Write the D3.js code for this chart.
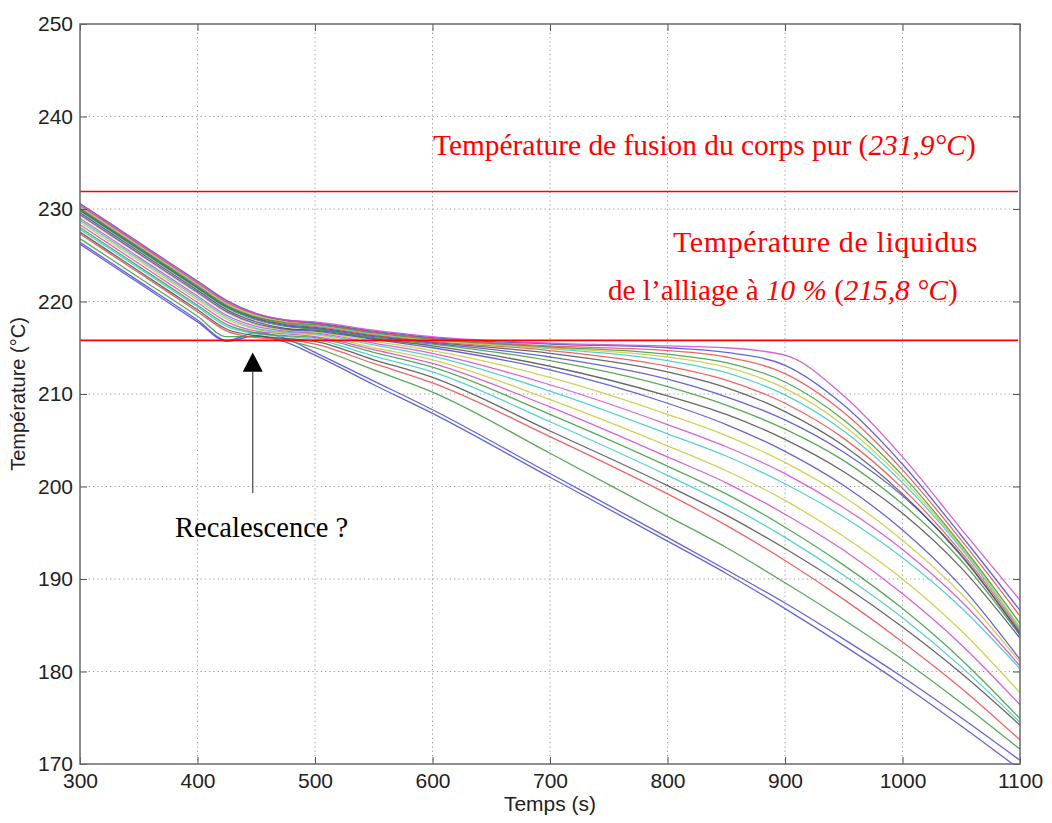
<!DOCTYPE html>
<html>
<head>
<meta charset="utf-8">
<script src="https://cdn.jsdelivr.net/npm/d3@7"></script>
<style>
  body { margin: 0; background: #fff; }
  svg { display: block; }
</style>
</head>
<body>
<div id="chart"></div>
<script>
// Courbes de refroidissement - alliage 10 %
// temps communs à toutes les courbes (s)
const times = [300, 350, 400, 425, 450, 475, 500, 550, 600, 700, 800, 850, 900, 950, 1000, 1050, 1100];

// couleurs MATLAB (b g r c m y k) de chaque courbe
const seriesColors = ["b","b","g","r","k","c","g","m","y","c","m","y","b","k","g","b","k","r","c","y","g","r","b","m"];

// températures (°C), une ligne par thermocouple
const temperatures = [
  [226.2, 222.0, 217.8, 215.7, 216.3, 215.6, 214.2, 211.0, 207.9, 201.0, 194.1, 190.6, 186.8, 182.8, 178.6, 174.1, 169.4],
  [226.4, 222.2, 218.0, 215.8, 216.6, 216.0, 214.5, 211.4, 208.3, 201.4, 194.5, 191.0, 187.4, 183.5, 179.4, 175.0, 170.4],
  [226.8, 222.6, 218.4, 216.2, 216.2, 215.8, 215.0, 212.6, 210.2, 203.6, 196.8, 193.4, 189.6, 185.6, 181.3, 176.6, 171.6],
  [227.3, 223.1, 218.9, 216.8, 216.1, 215.9, 215.4, 213.3, 211.2, 205.4, 199.2, 195.8, 192.0, 187.8, 183.2, 178.2, 172.6],
  [227.5, 223.3, 219.1, 217.0, 216.3, 216.0, 215.7, 213.7, 211.8, 206.0, 200.1, 196.9, 193.3, 189.3, 184.8, 179.8, 174.2],
  [227.8, 223.6, 219.4, 217.3, 216.5, 216.2, 215.9, 214.1, 212.4, 207.0, 201.2, 198.1, 194.5, 190.4, 185.8, 180.5, 174.5],
  [228.0, 223.8, 219.6, 217.5, 216.6, 216.3, 216.1, 214.5, 212.9, 207.8, 202.2, 199.2, 195.6, 191.5, 186.8, 181.3, 174.9],
  [228.3, 224.1, 219.9, 217.8, 216.8, 216.5, 216.2, 214.8, 213.3, 208.6, 203.2, 200.4, 197.0, 193.1, 188.4, 182.9, 176.4],
  [228.6, 224.4, 220.2, 218.1, 217.0, 216.6, 216.4, 215.0, 213.7, 209.4, 204.4, 201.7, 198.5, 194.6, 190.0, 184.4, 177.7],
  [228.8, 224.6, 220.4, 218.3, 217.1, 216.7, 216.5, 215.3, 214.1, 210.3, 205.7, 203.3, 200.3, 196.7, 192.3, 186.9, 180.3],
  [229.0, 224.8, 220.6, 218.5, 217.3, 216.8, 216.6, 215.5, 214.4, 211.0, 206.7, 204.3, 201.4, 197.7, 193.2, 187.6, 180.6],
  [229.3, 225.1, 220.9, 218.8, 217.5, 216.9, 216.7, 215.7, 214.7, 211.8, 207.8, 205.5, 202.6, 198.9, 194.2, 188.4, 181.0],
  [229.4, 225.2, 221.0, 218.9, 217.6, 217.0, 216.8, 215.9, 215.0, 212.6, 209.0, 206.7, 203.8, 200.1, 195.3, 189.2, 181.3],
  [229.6, 225.4, 221.2, 219.1, 217.8, 217.1, 216.9, 216.0, 215.2, 213.0, 209.8, 207.8, 205.1, 201.6, 197.1, 191.2, 183.6],
  [229.8, 225.6, 221.4, 219.3, 218.0, 217.3, 217.0, 216.1, 215.4, 213.6, 210.8, 208.8, 206.2, 202.8, 198.1, 192.0, 183.9],
  [229.9, 225.7, 221.5, 219.4, 218.1, 217.4, 217.1, 216.2, 215.5, 214.0, 211.6, 209.7, 207.2, 203.7, 199.0, 192.6, 184.0],
  [230.0, 225.8, 221.6, 219.5, 218.2, 217.5, 217.2, 216.3, 215.6, 214.4, 212.4, 210.7, 208.1, 204.4, 199.2, 192.5, 184.2],
  [230.1, 225.9, 221.7, 219.6, 218.3, 217.6, 217.3, 216.4, 215.7, 214.7, 213.0, 211.5, 209.0, 205.2, 199.8, 192.9, 184.4],
  [230.2, 226.0, 221.8, 219.7, 218.4, 217.7, 217.4, 216.5, 215.8, 214.9, 213.6, 212.3, 209.9, 206.0, 200.4, 193.3, 184.6],
  [230.3, 226.1, 221.9, 219.8, 218.5, 217.8, 217.5, 216.6, 215.8, 215.0, 214.0, 212.9, 210.6, 206.6, 200.8, 193.5, 184.8],
  [230.0, 225.8, 221.6, 219.5, 218.3, 217.7, 217.5, 216.6, 215.9, 215.1, 214.3, 213.4, 211.3, 207.2, 201.2, 193.7, 185.2],
  [230.4, 226.2, 222.0, 219.9, 218.6, 217.9, 217.6, 216.7, 216.0, 215.2, 214.7, 214.0, 212.2, 208.0, 201.8, 194.2, 186.0],
  [230.6, 226.4, 222.2, 220.1, 218.7, 218.0, 217.7, 216.8, 216.1, 215.4, 215.0, 214.5, 213.1, 208.8, 202.4, 194.7, 186.6],
  [230.5, 226.3, 222.1, 220.0, 218.7, 218.0, 217.8, 216.9, 216.2, 215.5, 215.2, 215.0, 214.2, 209.8, 203.2, 195.4, 187.7]
];

const xTicks = [300, 400, 500, 600, 700, 800, 900, 1000, 1100];
const yTicks = [170, 180, 190, 200, 210, 220, 230, 240, 250];

const fusionTemp = 231.9;    // corps pur
const liquidusTemp = 215.8;  // alliage 10 %
// flèche "Recalescence ?" : temps, pointe, base de la tête, queue (°C)
const arrowTime = 447;
const arrowTip = 214.5, arrowBase = 212.4, arrowTail = 199.3;

const palette = {
  b: "#4a4ad2", g: "#3c9a3c", r: "#ee4a4a", c: "#3cc8c8",
  m: "#d048d0", y: "#c9c93c", k: "#4d4d4d"
};

// Layout
const W = 1052, H = 823;
const margin = { top: 24, right: 32, bottom: 59, left: 80 };
const innerW = W - margin.left - margin.right;
const innerH = H - margin.top - margin.bottom;

const svg = d3.select("#chart").append("svg")
  .attr("width", W)
  .attr("height", H);

const g = svg.append("g")
  .attr("transform", `translate(${margin.left},${margin.top})`);

const x = d3.scaleLinear().domain([300, 1100]).range([0, innerW]);
const y = d3.scaleLinear().domain([170, 250]).range([innerH, 0]);

// Grille pointillée
g.append("g").selectAll("line")
  .data(xTicks.slice(1, -1))
  .enter().append("line")
  .attr("x1", d => x(d)).attr("x2", d => x(d))
  .attr("y1", 0).attr("y2", innerH)
  .attr("stroke", "#a0a0a0")
  .attr("stroke-dasharray", "1.3,3");

g.append("g").selectAll("line")
  .data(yTicks.slice(1, -1))
  .enter().append("line")
  .attr("x1", 0).attr("x2", innerW)
  .attr("y1", d => y(d)).attr("y2", d => y(d))
  .attr("stroke", "#a0a0a0")
  .attr("stroke-dasharray", "1.3,3");

// Courbes
g.append("clipPath").attr("id", "clip")
  .append("rect").attr("width", innerW).attr("height", innerH);

const line = d3.line()
  .x((d, i) => x(times[i]))
  .y(d => y(d))
  .curve(d3.curveMonotoneX);

g.append("g")
  .attr("clip-path", "url(#clip)")
  .selectAll("path")
  .data(temperatures)
  .enter().append("path")
  .attr("d", d => line(d))
  .attr("fill", "none")
  .attr("stroke", (d, i) => palette[seriesColors[i]])
  .attr("stroke-width", 1.3)
  .attr("stroke-opacity", 0.85);

// Lignes rouges
g.selectAll(".refLine")
  .data([fusionTemp, liquidusTemp])
  .enter().append("line")
  .attr("class", "refLine")
  .attr("x1", 0).attr("x2", innerW - 2)
  .attr("y1", d => y(d)).attr("y2", d => y(d))
  .attr("stroke", "#ff0000")
  .attr("stroke-width", 1.6);

// Axes (ticks vers l'intérieur, style MATLAB)
const tickFont = "'Liberation Sans', Arial, Helvetica, sans-serif";

g.append("g")
  .attr("transform", `translate(0,${innerH})`)
  .call(d3.axisBottom(x).tickValues(xTicks).tickFormat(d => String(d)).tickSize(-7).tickPadding(9))
  .call(s => s.select(".domain").remove())
  .call(s => s.selectAll("line").attr("stroke", "#555"))
  .selectAll("text")
  .style("font-family", tickFont).style("font-size", "21px").attr("fill", "#222");

g.append("g")
  .call(d3.axisLeft(y).tickValues(yTicks).tickFormat(d => String(d)).tickSize(-7).tickPadding(7))
  .call(s => s.select(".domain").remove())
  .call(s => s.selectAll("line").attr("stroke", "#555"))
  .selectAll("text")
  .style("font-family", tickFont).style("font-size", "21px").attr("fill", "#222");

g.append("g")
  .call(d3.axisTop(x).tickValues(xTicks).tickSize(-7).tickFormat(""))
  .call(s => s.select(".domain").remove())
  .call(s => s.selectAll("line").attr("stroke", "#555"));

g.append("g")
  .attr("transform", `translate(${innerW},0)`)
  .call(d3.axisRight(y).tickValues(yTicks).tickSize(-7).tickFormat(""))
  .call(s => s.select(".domain").remove())
  .call(s => s.selectAll("line").attr("stroke", "#555"));

// Cadre
g.append("rect")
  .attr("width", innerW).attr("height", innerH)
  .attr("fill", "none")
  .attr("stroke", "#6a6a6a")
  .attr("stroke-width", 1.5);

// Titres d'axes
svg.append("text")
  .attr("x", 550)
  .attr("y", 811)
  .attr("text-anchor", "middle")
  .style("font-family", tickFont).style("font-size", "21px")
  .attr("fill", "#222")
  .text("Temps (s)");

svg.append("text")
  .attr("transform", `translate(25,${margin.top + innerH / 2}) rotate(-90)`)
  .attr("text-anchor", "middle")
  .style("font-family", tickFont).style("font-size", "20px")
  .attr("fill", "#222")
  .text("Température (°C)");

// Annotations rouges
const serif = "'Liberation Serif', 'Times New Roman', serif";

function redText(px, py, size, spacing, parts){
  const t = svg.append("text")
    .attr("x", px).attr("y", py)
    .style("font-family", serif).style("font-size", size + "px")
    .style("letter-spacing", spacing + "px")
    .attr("fill", "#ff0000");
  parts.forEach(p => {
    t.append("tspan").style("font-style", p[1] ? "italic" : "normal").text(p[0]);
  });
}

redText(433, 155, 29.4, 0, [["Température de fusion du corps pur (", 0], ["231,9°C", 1], [")", 0]]);
redText(673, 252, 30, 0.6, [["Température de liquidus", 0]]);
redText(608, 300, 29.2, 0, [["de l\u2019alliage à ", 0], ["10 %", 1], [" (", 0], ["215,8 °C", 1], [")", 0]]);

// Flèche recalescence
g.append("line")
  .attr("x1", x(arrowTime)).attr("x2", x(arrowTime))
  .attr("y1", y(arrowTail)).attr("y2", y(arrowBase))
  .attr("stroke", "#555")
  .attr("stroke-width", 1.3);

g.append("path")
  .attr("d", `M${x(arrowTime)},${y(arrowTip)} L${x(arrowTime) - 10},${y(arrowBase)} L${x(arrowTime) + 10},${y(arrowBase)} Z`)
  .attr("fill", "#000");

svg.append("text")
  .attr("x", 175).attr("y", 537)
  .style("font-family", serif).style("font-size", "28.5px")
  .attr("fill", "#000")
  .text("Recalescence ?");
</script>
</body>
</html>
